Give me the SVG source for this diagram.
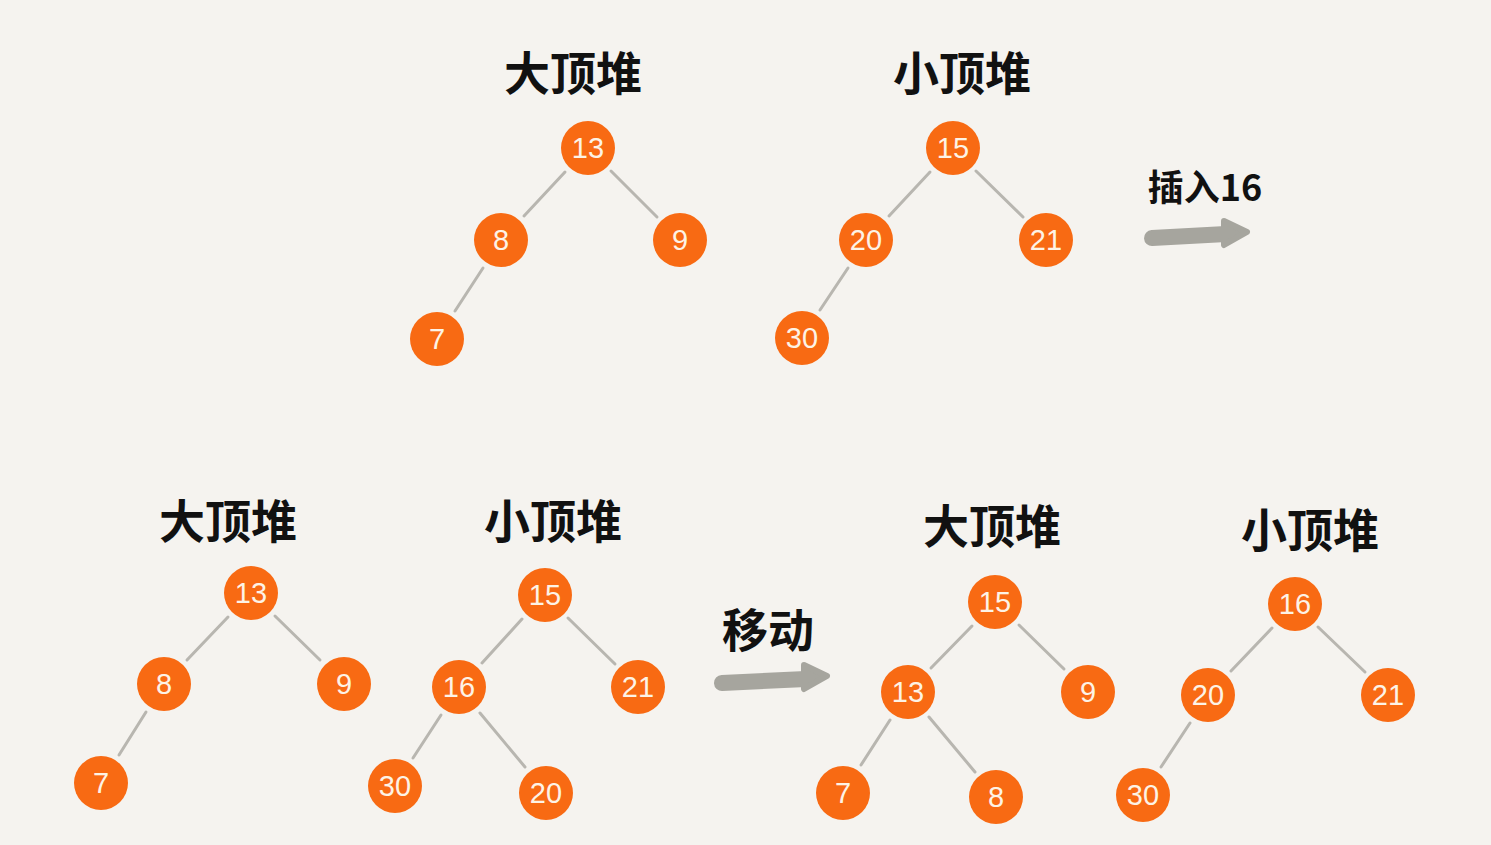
<svg xmlns="http://www.w3.org/2000/svg" width="1491" height="845" viewBox="0 0 1491 845">
<style>
.bg{fill:#f5f3ef}
.n circle{fill:#f86a13}
.n text{fill:#fdf3e6;font-family:"Liberation Sans",sans-serif;font-size:29px;text-anchor:middle;dominant-baseline:central}
.t{fill:#111;font-family:"Noto Sans CJK SC",sans-serif;font-weight:bold;font-size:46px;text-anchor:middle;dominant-baseline:central}
.s{font-size:36px}
#edges line{stroke:#b8b6b0;stroke-width:3;stroke-linecap:round}
.arr path{fill:none;stroke:#a6a59e;stroke-width:16;stroke-linecap:round}
.arr polygon{fill:#a6a59e;stroke:#a6a59e;stroke-width:6;stroke-linejoin:round}
</style>
<rect class="bg" x="0" y="0" width="1491" height="845"/>
<g id="titles">
<text class="t" x="573" y="70">大顶堆</text>
<text class="t" x="962" y="70">小顶堆</text>
<text class="t s" x="1205" y="185">插入16</text>
<text class="t" x="228" y="518">大顶堆</text>
<text class="t" x="553" y="518">小顶堆</text>
<text class="t" x="768" y="627">移动</text>
<text class="t" x="992" y="523">大顶堆</text>
<text class="t" x="1310" y="527">小顶堆</text>
</g>
<g id="edges">
<line x1="565" y1="172" x2="524" y2="216"/>
<line x1="611" y1="171" x2="657" y2="217"/>
<line x1="483" y1="268" x2="455" y2="311"/>
<line x1="930" y1="172" x2="889" y2="216"/>
<line x1="976" y1="171" x2="1023" y2="217"/>
<line x1="848" y1="268" x2="820" y2="310"/>
<line x1="228" y1="617" x2="187" y2="660"/>
<line x1="275" y1="616" x2="320" y2="660"/>
<line x1="146" y1="712" x2="119" y2="755"/>
<line x1="522" y1="619" x2="482" y2="663"/>
<line x1="568" y1="618" x2="615" y2="664"/>
<line x1="441" y1="715" x2="413" y2="758"/>
<line x1="480" y1="713" x2="525" y2="767"/>
<line x1="972" y1="626" x2="931" y2="668"/>
<line x1="1019" y1="625" x2="1064" y2="669"/>
<line x1="890" y1="720" x2="861" y2="765"/>
<line x1="929" y1="717" x2="975" y2="772"/>
<line x1="1272" y1="628" x2="1231" y2="671"/>
<line x1="1318" y1="627" x2="1365" y2="672"/>
<line x1="1190" y1="723" x2="1161" y2="767"/>
</g>
<g id="arrow-insert" class="arr">
<path d="M1152,238 L1226,234"/>
<polygon points="1224,221 1247,232 1224,245"/>
</g>
<g id="arrow-move" class="arr">
<path d="M722,683 L806,679"/>
<polygon points="804,665 827,676 804,689"/>
</g>
<g id="n-a13" class="n"><circle cx="588" cy="148" r="27"/><text x="588" y="148">13</text></g>
<g id="n-a8" class="n"><circle cx="501" cy="240" r="27"/><text x="501" y="240">8</text></g>
<g id="n-a9" class="n"><circle cx="680" cy="240" r="27"/><text x="680" y="240">9</text></g>
<g id="n-a7" class="n"><circle cx="437" cy="339" r="27"/><text x="437" y="339">7</text></g>
<g id="n-b15" class="n"><circle cx="953" cy="148" r="27"/><text x="953" y="148">15</text></g>
<g id="n-b20" class="n"><circle cx="866" cy="240" r="27"/><text x="866" y="240">20</text></g>
<g id="n-b21" class="n"><circle cx="1046" cy="240" r="27"/><text x="1046" y="240">21</text></g>
<g id="n-b30" class="n"><circle cx="802" cy="338" r="27"/><text x="802" y="338">30</text></g>
<g id="n-c13" class="n"><circle cx="251" cy="593" r="27"/><text x="251" y="593">13</text></g>
<g id="n-c8" class="n"><circle cx="164" cy="684" r="27"/><text x="164" y="684">8</text></g>
<g id="n-c9" class="n"><circle cx="344" cy="684" r="27"/><text x="344" y="684">9</text></g>
<g id="n-c7" class="n"><circle cx="101" cy="783" r="27"/><text x="101" y="783">7</text></g>
<g id="n-d15" class="n"><circle cx="545" cy="595" r="27"/><text x="545" y="595">15</text></g>
<g id="n-d16" class="n"><circle cx="459" cy="687" r="27"/><text x="459" y="687">16</text></g>
<g id="n-d21" class="n"><circle cx="638" cy="687" r="27"/><text x="638" y="687">21</text></g>
<g id="n-d30" class="n"><circle cx="395" cy="786" r="27"/><text x="395" y="786">30</text></g>
<g id="n-d20" class="n"><circle cx="546" cy="793" r="27"/><text x="546" y="793">20</text></g>
<g id="n-e15" class="n"><circle cx="995" cy="602" r="27"/><text x="995" y="602">15</text></g>
<g id="n-e13" class="n"><circle cx="908" cy="692" r="27"/><text x="908" y="692">13</text></g>
<g id="n-e9" class="n"><circle cx="1088" cy="692" r="27"/><text x="1088" y="692">9</text></g>
<g id="n-e7" class="n"><circle cx="843" cy="793" r="27"/><text x="843" y="793">7</text></g>
<g id="n-e8" class="n"><circle cx="996" cy="797" r="27"/><text x="996" y="797">8</text></g>
<g id="n-f16" class="n"><circle cx="1295" cy="604" r="27"/><text x="1295" y="604">16</text></g>
<g id="n-f20" class="n"><circle cx="1208" cy="695" r="27"/><text x="1208" y="695">20</text></g>
<g id="n-f21" class="n"><circle cx="1388" cy="695" r="27"/><text x="1388" y="695">21</text></g>
<g id="n-f30" class="n"><circle cx="1143" cy="795" r="27"/><text x="1143" y="795">30</text></g>
</svg>
